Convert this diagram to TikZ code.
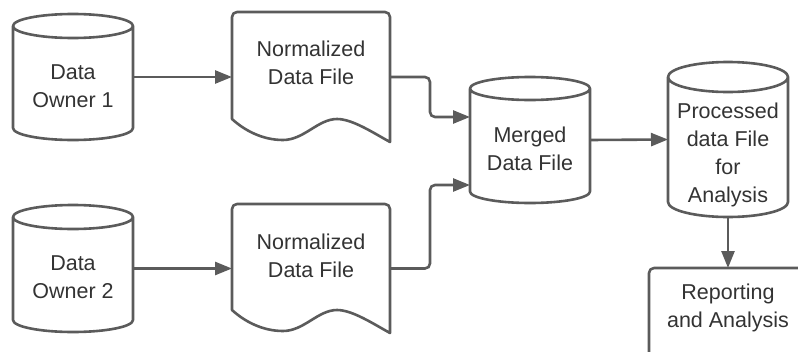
\documentclass[tikz,border=0pt]{standalone}
\usepackage{fontspec}
\setmainfont{Liberation Sans}
\usetikzlibrary{arrows.meta}
\definecolor{ln}{HTML}{5B5B5B}
\definecolor{tx}{HTML}{333333}
\newcommand\cylpath[3]{%
  \draw[shp] ([yshift=-#3]#1.north west) -- ([yshift=#3]#1.south west)
    arc[start angle=180,end angle=360,x radius=#2,y radius=#3]
    -- ([yshift=-#3]#1.north east)
    arc[start angle=0,end angle=360,x radius=#2,y radius=#3];}
\newcommand\docpath[1]{%
  \draw[shp] ([yshift=23pt]#1.south west) -- ([yshift=-5pt]#1.north west)
    arc[start angle=180,end angle=90,radius=5pt]
    -- ([xshift=-5pt]#1.north east)
    arc[start angle=90,end angle=0,radius=5pt]
    -- (#1.south east)
    .. controls ([shift={(140pt,10pt)}]#1.south west) and ([shift={(120pt,23pt)}]#1.south west) .. ([shift={(105pt,23pt)}]#1.south west)
    .. controls ([shift={(86pt,23pt)}]#1.south west) and ([shift={(72pt,2pt)}]#1.south west) .. ([shift={(51pt,2pt)}]#1.south west)
    .. controls ([shift={(30pt,2pt)}]#1.south west) and ([shift={(12pt,12pt)}]#1.south west) .. ([yshift=23pt]#1.south west)
    -- cycle;}
\begin{document}
\begin{tikzpicture}[x=1pt,y=-1pt,
  shp/.style={draw=ln,line width=2.6pt,line join=round},
  conn/.style={draw=ln,line width=2.6pt,-{Triangle[length=17pt,width=13pt]},rounded corners=5pt},
  area/.style={inner sep=0pt,outer sep=0pt},
  lbl/.style={text=tx,align=center,font=\fontsize{21.5}{28}\selectfont,inner sep=0pt}]
\useasboundingbox (0,0) rectangle (798,351);
\clip (0,0) rectangle (798,351);
\fill[white] (0,0) rectangle (798,351);
% shape areas
\node[area,minimum width=120pt,minimum height=126pt] (o1) at (73,77) {};
\node[area,minimum width=120pt,minimum height=127pt] (o2) at (73,268.5) {};
\node[area,minimum width=158pt,minimum height=130pt] (n1) at (311,77) {};
\node[area,minimum width=158pt,minimum height=129pt] (n2) at (311,268.5) {};
\node[area,minimum width=120pt,minimum height=126pt] (m) at (530,140) {};
\node[area,minimum width=120pt,minimum height=155pt] (p) at (728,139.5) {};
\node[area,minimum width=158pt,minimum height=92pt] (r) at (728,314) {};
% shapes
\cylpath{o1}{60pt}{12pt}
\cylpath{o2}{60pt}{12pt}
\cylpath{m}{60pt}{11.5pt}
\cylpath{p}{60pt}{15pt}
\docpath{n1}
\docpath{n2}
\draw[shp,rounded corners=5pt] (r.south west) rectangle (r.north east);
% texts
\node[lbl] (to1) at (73,86) {Data\\Owner 1};
\node[lbl] (to2) at (73,277) {Data\\Owner 2};
\node[lbl] (tn1) at (311,63) {Normalized\\Data File};
\node[lbl] (tn2) at (311,255.5) {Normalized\\Data File};
\node[lbl] (tm) at (530,149) {Merged\\Data File};
\node[lbl] (tp) at (728,154.5) {Processed\\data File\\for\\Analysis};
\node[lbl] (tr) at (728,307.5) {Reporting\\and Analysis};
% connectors
\draw[conn] (o1.east) -- (n1.west);
\draw[conn] (o2.east) -- (n2.west);
\draw[conn] (n1.east) -- ++(40,0) |- ([yshift=23pt]m.west);
\draw[conn] (n2.east) -- ++(40,0) |- ([yshift=-45pt]m.west);
\draw[conn] (m.east) -- (p.west);
\draw[conn] (p.south) -- (r.north);
\end{tikzpicture}
\end{document}
